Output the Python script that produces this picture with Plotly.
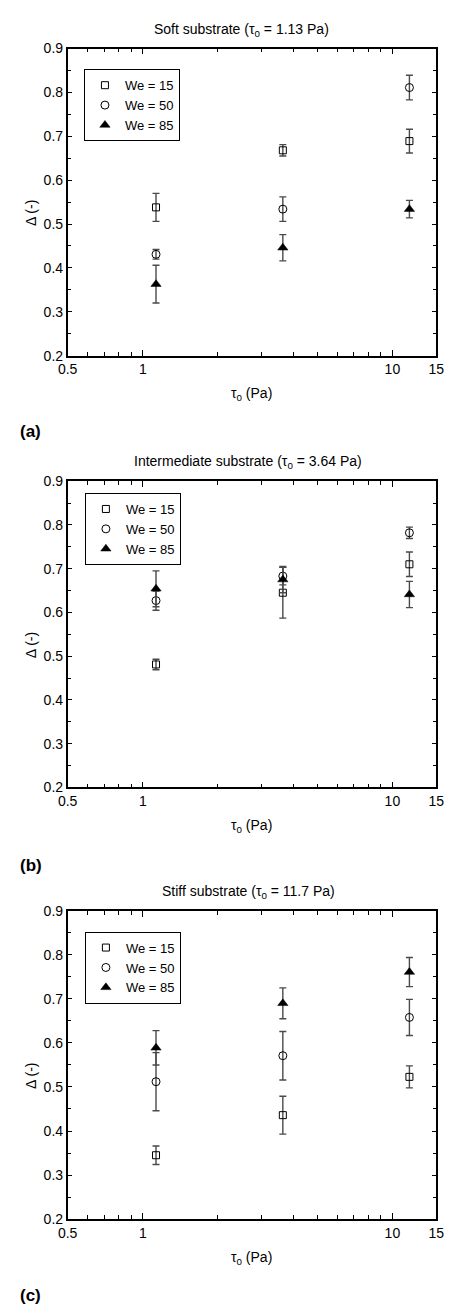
import math
import plotly.graph_objects as go

W, H = 453, 1313

tau = [1.13, 3.64, 11.7]
series_names = ["We = 15", "We = 50", "We = 85"]

panel_titles = [
    "Soft substrate (τ<sub>0</sub> = 1.13 Pa)",
    "Intermediate substrate (τ<sub>0</sub> = 3.64 Pa)",
    "Stiff substrate (τ<sub>0</sub> = 11.7 Pa)",
]
panel_labels = ["(a)", "(b)", "(c)"]

# values per panel, per series (one value per tau)
a_we15 = [0.538, 0.668, 0.689]
a_we50 = [0.431, 0.534, 0.811]
a_we85 = [0.363, 0.446, 0.534]
a_err15 = [0.032, 0.013, 0.027]
a_err50 = [0.011, 0.028, 0.028]
a_err85 = [0.043, 0.030, 0.020]

b_we15 = [0.481, 0.645, 0.710]
b_we50 = [0.627, 0.683, 0.782]
b_we85 = [0.654, 0.675, 0.641]
b_err15 = [0.012, 0.058, 0.028]
b_err50 = [0.022, 0.020, 0.013]
b_err85 = [0.041, 0.030, 0.030]

c_we15 = [0.345, 0.436, 0.523]
c_we50 = [0.512, 0.571, 0.658]
c_we85 = [0.589, 0.690, 0.761]
c_err15 = [0.021, 0.043, 0.025]
c_err50 = [0.066, 0.055, 0.041]
c_err85 = [0.039, 0.035, 0.033]

panels = [
    ([a_we15, a_we50, a_we85], [a_err15, a_err50, a_err85]),
    ([b_we15, b_we50, b_we85], [b_err15, b_err50, b_err85]),
    ([c_we15, c_we50, c_we85], [c_err15, c_err50, c_err85]),
]

y_ticks = [0.2, 0.3, 0.4, 0.5, 0.6, 0.7, 0.8, 0.9]
y_minor = [0.25, 0.35, 0.45, 0.55, 0.65, 0.75, 0.85]
x_tickvals = [0.5, 1, 10, 15]
x_ticktext = ["0.5", "1", "10", "15"]
x_minor = [0.6, 0.7, 0.8, 0.9, 2, 3, 4, 5, 6, 7, 8, 9]
x_min, x_max = 0.5, 15

# layout geometry (pixels)
plot_left, plot_right = 60, 444
plot_tops = [41, 479, 914]
plot_bottoms = [352, 789, 1226]
title_x = [241, 248, 248]
legend_pos = [(77, 62), (78, 491), (78, 935)]
label_y = [429, 868, 1303]

FONT = "Liberation Sans, Arial, sans-serif"

symbols = [
    dict(symbol="square-open", size=7, color="black", line=dict(width=1, color="black")),
    dict(symbol="circle-open", size=8, color="black", line=dict(width=1, color="black")),
    dict(symbol="triangle-up", size=9, color="black", line=dict(width=0.5, color="black")),
]

fig = go.Figure()
annotations = []

for p, (vals, errs) in enumerate(panels):
    sfx = "" if p == 0 else str(p + 1)
    leg = "legend" if p == 0 else f"legend{p + 1}"
    for s in range(3):
        fig.add_trace(go.Scatter(
            x=tau, y=vals[s], mode="markers", name=series_names[s],
            marker=symbols[s],
            error_y=dict(type="data", array=errs[s], visible=True,
                         color="#4a4a4a", thickness=1.4, width=3.5),
            xaxis="x" + sfx, yaxis="y" + sfx, legend=leg,
        ))
    top, bot = plot_tops[p], plot_bottoms[p]
    dom_y = [1 - bot / H, 1 - top / H]
    xa = dict(
        type="log", range=[math.log10(x_min), math.log10(x_max)],
        domain=[plot_left / W, plot_right / W],
        anchor="y" + sfx, tickmode="array", tickvals=x_tickvals, ticktext=x_ticktext,
        ticks="inside", ticklen=6, tickwidth=1, tickcolor="black",
        minor=dict(tickmode="array", tickvals=x_minor, ticks="inside", ticklen=4,
                   tickwidth=1, tickcolor="black", showgrid=False),
        showline=True, linecolor="black", linewidth=1.5, mirror="ticks",
        showgrid=False, zeroline=False, ticklabeloverflow="allow",
        tickfont=dict(family=FONT, size=14, color="black"),
    )
    ya = dict(
        range=[0.2, 0.9], domain=dom_y, anchor="x" + sfx,
        tickmode="array", tickvals=y_ticks, tickformat=".1f",
        ticks="inside", ticklen=5, tickwidth=1, tickcolor="black",
        minor=dict(tickmode="array", tickvals=y_minor,
                   ticks="inside", ticklen=4, tickwidth=1, tickcolor="black", showgrid=False),
        showline=True, linecolor="black", linewidth=1.5, mirror="ticks",
        showgrid=False, zeroline=False,
        tickfont=dict(family=FONT, size=14, color="black"),
    )
    fig.update_layout(**{"xaxis" + sfx: xa, "yaxis" + sfx: ya})

    lx, ly = legend_pos[p]
    fig.update_layout(**{leg: dict(
        x=lx / W, y=1 - ly / H, xanchor="left", yanchor="top",
        bgcolor="white", bordercolor="black", borderwidth=1,
        font=dict(family=FONT, size=13, color="black"),
        tracegroupgap=0, itemclick=False,
    )})

    annotations.append(dict(
        text=panel_titles[p], x=title_x[p] / W, y=1 - (top - 19) / H,
        xref="paper", yref="paper", showarrow=False, xanchor="center", yanchor="middle",
        font=dict(family=FONT, size=14, color="black")))
    annotations.append(dict(
        text="τ<sub>0</sub> (Pa)", x=252 / W, y=1 - (bot + 39) / H,
        xref="paper", yref="paper", showarrow=False, xanchor="center", yanchor="middle",
        font=dict(family=FONT, size=14, color="black")))
    annotations.append(dict(
        text="Δ (-)", x=22 / W, y=1 - ((top + bot) / 2 + 11) / H, textangle=-90,
        xref="paper", yref="paper", showarrow=False, xanchor="center", yanchor="middle",
        font=dict(family=FONT, size=14, color="black")))
    annotations.append(dict(
        text="<b>" + panel_labels[p] + "</b>", x=8 / W, y=1 - label_y[p] / H,
        xref="paper", yref="paper", showarrow=False, xanchor="left", yanchor="middle",
        font=dict(family=FONT, size=17, color="black")))

fig.update_layout(
    width=W, height=H, margin=dict(l=0, r=0, t=0, b=0),
    paper_bgcolor="white", plot_bgcolor="white",
    annotations=annotations, showlegend=True,
)

fig.write_html("out.html")
